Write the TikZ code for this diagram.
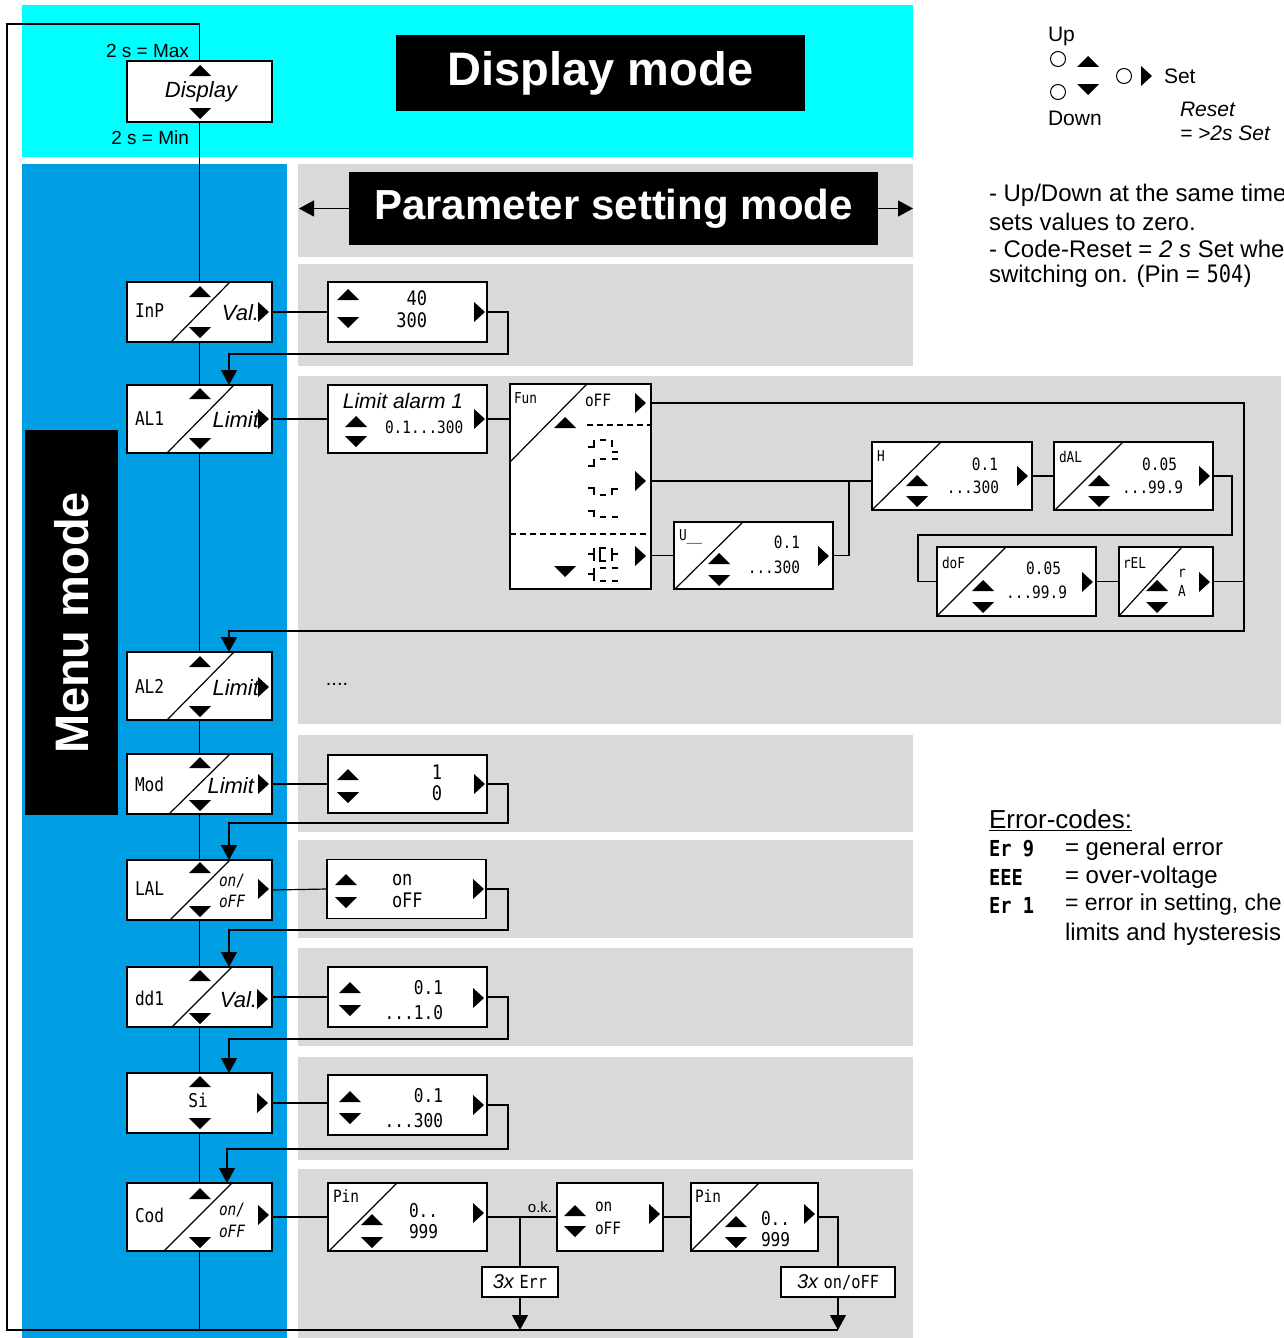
\documentclass[tikz,border=0pt]{standalone}
\usepackage{fontspec}
\setmainfont{Liberation Sans}
\newfontfamily\lcd[FakeStretch=0.85]{DejaVu Sans Mono}
\usetikzlibrary{arrows.meta,calc}
\definecolor{cyanbg}{RGB}{0,255,255}
\definecolor{bluebg}{RGB}{0,158,226}
\definecolor{graybg}{RGB}{217,217,217}
\newcommand\FS[1]{\fontsize{#1}{#1}\selectfont}
\newcommand\UpTri[2]{\fill ({#1-11},{#2+5}) -- ({#1+11},{#2+5}) -- (#1,{#2-6}) -- cycle;}
\newcommand\DnTri[2]{\fill ({#1-11},{#2-5}) -- ({#1+11},{#2-5}) -- (#1,{#2+6}) -- cycle;}
\newcommand\RtTri[2]{\fill ({#1-5},{#2-10}) -- ({#1-5},{#2+10}) -- ({#1+6},#2) -- cycle;}
\begin{document}
\begin{tikzpicture}[x=1pt,y=-1pt,
  every node/.style={inner sep=0pt, outer sep=0pt},
  bx/.style={draw, fill=white, line width=1.2pt, rectangle},
  ln/.style={line width=1.2pt},
  arr/.style={line width=1.2pt, -{Triangle[width=16pt,length=15pt]}},
  ttl/.style={fill=black, text=white, font=\FS{#1}\bfseries},
  lcdf/.style={font=\lcd\FS{#1}},
  lcdi/.style={font=\lcd\itshape\FS{#1}},
  sans/.style={font=\FS{#1}},
  ital/.style={font=\FS{#1}\itshape},
  dsh/.style={line width=1.2pt, dash pattern=on 6pt off 4pt}
]
\useasboundingbox (0,0) rectangle (1284,1338);
\fill[white] (0,0) rectangle (1284,1338);
% backgrounds
\fill[cyanbg] (22,5) rectangle (913,157);
\fill[bluebg] (22,164) rectangle (287,1338);
\fill[graybg] (298,164) rectangle (913,257);
\fill[graybg] (298,264) rectangle (913,366);
\fill[graybg] (298,376) rectangle (1281,724);
\fill[graybg] (298,735) rectangle (913,832);
\fill[graybg] (298,840) rectangle (913,938);
\fill[graybg] (298,948) rectangle (913,1046);
\fill[graybg] (298,1057) rectangle (913,1160);
\fill[graybg] (298,1169) rectangle (913,1338);

% titles
\node[ttl=47, minimum width=409, minimum height=76] (dm) at (600.5,73) {Display mode};
\node[ttl=42, minimum width=529, minimum height=73] (psm) at (613.5,208.5) {Parameter setting mode};
\node[ttl=47, rotate=90, minimum width=385, minimum height=93] (mm) at (71.5,622.5) {Menu mode};
\coordinate (pl) at (299,208.5);
\coordinate (pr) at (913,208.5);
\draw[arr] (psm.west) -- (pl);
\draw[arr] (psm.east) -- (pr);

% loop coordinates
\coordinate (lt) at (199.5,24);
\coordinate (ltl) at (7,24);
\coordinate (lbl) at (7,1330);
\coordinate (botR) at (838,1330);

% display box
\node[bx, minimum width=145, minimum height=61] (disp) at (199.5,91.5) {};
\node[ital=22] (dispt) at (201,92) {Display};
\node[sans=19, anchor=east] (tmax) at (189,51) {2 s = Max};
\node[sans=19, anchor=east] (tmin) at (189,138) {2 s = Min};
\draw[ln] (disp.north) -- (lt) -- (ltl) -- (lbl) -- (botR);

% menu boxes
\node[bx, minimum width=145, minimum height=60] (inp) at (199.5,312) {};
\node[bx, minimum width=145, minimum height=68] (al1) at (199.5,419) {};
\node[bx, minimum width=145, minimum height=68] (al2) at (199.5,686) {};
\node[bx, minimum width=145, minimum height=60] (mod) at (199.5,784) {};
\node[bx, minimum width=145, minimum height=60] (lal) at (199.5,890) {};
\node[bx, minimum width=145, minimum height=60] (dd1) at (199.5,997) {};
\node[bx, minimum width=145, minimum height=60] (si) at (199.5,1103) {};
\node[bx, minimum width=145, minimum height=68] (cod) at (199.5,1217) {};
% main vertical line
\draw[ln] (disp.south) -- (inp.north);
\draw[ln] (inp.south) -- (al1.north);
\draw[ln] (al1.south) -- (al2.north);
\draw[ln] (al2.south) -- (mod.north);
\draw[ln] (mod.south) -- (lal.north);
\draw[ln] (lal.south) -- (dd1.north);
\draw[ln] (dd1.south) -- (si.north);
\draw[ln] (si.south) -- (cod.north);
\draw[ln] (cod.south) -- (cod.south |- lbl);
% diagonals
\draw[ln] (171,342) -- (230,282);
\draw[ln] (167,453) -- (234,385);
\draw[ln] (167,720) -- (234,652);
\draw[ln] (169,814) -- (230,754);
\draw[ln] (170,920) -- (230,860);
\draw[ln] (172,1027) -- (232,967);
\draw[ln] (164,1251) -- (232,1183);
% menu texts
\node[lcdf=19, anchor=west] (inpt) at (135,311) {InP};
\node[ital=22, anchor=east] (inpl) at (259,313) {Val.};
\node[lcdf=19, anchor=west] (al1t) at (135,419) {AL1};
\node[ital=22, anchor=east] (al1l) at (259,420) {Limit};
\node[lcdf=19, anchor=west] (al2t) at (135,686) {AL2};
\node[ital=22, anchor=east] (al2l) at (259,688) {Limit};
\node[lcdf=19, anchor=west] (modt) at (135,784) {Mod};
\node[ital=22, anchor=east] (modl) at (254,786) {Limit};
\node[lcdf=19, anchor=west] (lalt) at (135,889) {LAL};
\node[lcdi=17, anchor=west] (lall1) at (219,881) {on/};
\node[lcdi=17, anchor=west] (lall2) at (219,901) {oFF};
\node[lcdf=19, anchor=west] (dd1t) at (135,998) {dd1};
\node[ital=22, anchor=east] (dd1l) at (257,1000) {Val.};
\node[lcdf=19] (sit) at (198,1100) {Si};
\node[lcdf=19, anchor=west] (codt) at (135,1215) {Cod};
\node[lcdi=17, anchor=west] (codl1) at (219,1210) {on/};
\node[lcdi=17, anchor=west] (codl2) at (219,1231) {oFF};
% menu triangles
\UpTri{200}{71} \DnTri{200}{113}
\UpTri{200}{292} \DnTri{200}{332} \RtTri{263}{312}
\UpTri{200}{394} \DnTri{200}{443} \RtTri{263}{419}
\UpTri{200}{662} \DnTri{200}{711} \RtTri{263}{687}
\UpTri{200}{763} \DnTri{200}{805} \RtTri{263}{784}
\UpTri{200}{868} \DnTri{200}{911} \RtTri{263}{889}
\UpTri{200}{976} \DnTri{200}{1018} \RtTri{262}{999}
\UpTri{200}{1082} \DnTri{200}{1123} \RtTri{262}{1103}
\UpTri{200}{1194} \DnTri{200}{1242} \RtTri{263}{1215}

% parameter boxes
\node[bx, minimum width=159, minimum height=60] (inpv) at (407.5,312) {};
\node[bx, minimum width=159, minimum height=68] (al1v) at (407.5,419) {};
\node[bx, minimum width=159, minimum height=58] (modv) at (407.5,784) {};
\node[bx, minimum width=159, minimum height=59] (lalv) at (406.5,889) {};
\node[bx, minimum width=159, minimum height=60] (dd1v) at (407.5,997) {};
\node[bx, minimum width=159, minimum height=60] (siv) at (407.5,1105) {};
\draw[ln] (inp.east) -- (inpv.west);
\draw[ln] (al1.east) -- (al1v.west);
\draw[ln] (mod.east) -- (modv.west);
\draw[ln] (lal.east) -- (lalv.west);
\draw[ln] (dd1.east) -- (dd1v.west);
\draw[ln] (si.east) -- (si.east -| siv.west);
% returns
\draw[arr] (inpv.east) -| (508,354) -| ($(al1.north west)+(102,0)$);
\draw[arr] (modv.east) -| (508,823) -| ($(lal.north west)+(102,0)$);
\draw[arr] (lalv.east) -| (508,930) -| ($(dd1.north west)+(102,0)$);
\draw[arr] (dd1v.east) -| (508,1039) -| ($(si.north west)+(102,0)$);
\draw[arr] (siv.east) -| (508,1149) -| ($(cod.north west)+(100,0)$);
% param texts
\node[lcdf=20, anchor=east] (inpv1) at (427,298) {40};
\node[lcdf=20, anchor=east] (inpv2) at (427,320) {300};
\node[ital=21] (al1v1) at (403,401) {Limit alarm 1};
\node[lcdf=17, anchor=west] (al1v2) at (385,427) {0.1...300};
\node[lcdf=20, anchor=east] (modv1) at (442,772) {1};
\node[lcdf=20, anchor=east] (modv2) at (442,793) {0};
\node[lcdf=20, anchor=west] (lalv1) at (392,880) {on};
\node[lcdf=20, anchor=west] (lalv2) at (392,900) {oFF};
\node[lcdf=19, anchor=east] (dd1v1) at (443,988) {0.1};
\node[lcdf=19, anchor=east] (dd1v2) at (443,1013) {...1.0};
\node[lcdf=19, anchor=east] (siv1) at (443,1096) {0.1};
\node[lcdf=19, anchor=east] (siv2) at (443,1121) {...300};
\node[sans=20] (dots) at (337,684) {....};
\UpTri{348}{295} \DnTri{348}{322} \RtTri{479}{312}
\UpTri{356}{422} \DnTri{356}{441} \RtTri{479}{419}
\UpTri{348}{775} \DnTri{348}{797} \RtTri{479}{784}
\UpTri{346}{880} \DnTri{346}{902} \RtTri{478}{889}
\UpTri{350}{988} \DnTri{350}{1010} \RtTri{478}{998}
\UpTri{350}{1097} \DnTri{350}{1118} \RtTri{478}{1105}

% Fun box
\node[bx, minimum width=141, minimum height=205] (fun) at (580.5,486.5) {};
\draw[ln] (al1v.east) -- (al1v.east -| fun.west);
\draw[ln] (510,462) -- (587,384);
\draw[dsh] (587,425) -- (651,425);
\draw[dsh] (510,534) -- (651,534);
\node[lcdf=15, anchor=west] (funt) at (514,398) {Fun};
\node[lcdf=17, anchor=west] (funo) at (585,400) {oFF};
\begin{scope}[line width=1.1pt]
\draw (588,447) -- (594,447) -- (594,440); \draw (600,440) -- (606,440); \draw (612,440) -- (612,447); \draw (612,452) -- (618,452);
\draw (588,466) -- (594,466) -- (594,459); \draw (600,459) -- (606,459); \draw (612,459) -- (618,459);
\draw (588,488) -- (594,488) -- (594,495); \draw (600,495) -- (606,495); \draw (612,495) -- (612,489) -- (618,489);
\draw (588,511) -- (594,511) -- (594,517); \draw (600,517) -- (606,517); \draw (612,517) -- (618,517);
\draw (588,554) -- (594,554); \draw (594,548) -- (594,561); \draw (606,548) -- (600,548) -- (600,561) -- (606,561); \draw (612,548) -- (612,561); \draw (612,554) -- (618,554);
\draw (588,574) -- (594,574); \draw (594,568) -- (594,581); \draw (600,568) -- (606,568); \draw (600,581) -- (606,581); \draw (612,568) -- (618,568); \draw (612,581) -- (618,581);
\end{scope}
\RtTri{640}{403} \UpTri{565}{423} \RtTri{640}{481} \RtTri{640}{556} \DnTri{565}{571}

% U box
\node[bx, minimum width=159, minimum height=67] (ub) at (753.5,555.5) {};
\draw[ln] (675,589) -- (743,522);
\node[lcdf=15, anchor=west] (ubt) at (679,537) {U\_\_};
\node[lcdf=17, anchor=east] (ub1) at (800,542) {0.1};
\node[lcdf=17, anchor=east] (ub2) at (800,567) {...300};
\UpTri{719}{559} \DnTri{719}{580} \RtTri{823}{556}

% H box
\node[bx, minimum width=160, minimum height=68] (hb) at (952,476) {};
\draw[ln] (872,510) -- (941,442);
\node[lcdf=15, anchor=west] (hbt) at (877,456) {H};
\node[lcdf=17, anchor=east] (hb1) at (998,464) {0.1};
\node[lcdf=17, anchor=east] (hb2) at (999,487) {...300};
\UpTri{917}{481} \DnTri{917}{501} \RtTri{1022}{476}

% dAL box
\node[bx, minimum width=159, minimum height=68] (dal) at (1133.5,476) {};
\draw[ln] (1055,510) -- (1123,442);
\node[lcdf=15, anchor=west] (dalt) at (1059,457) {dAL};
\node[lcdf=17, anchor=east] (dal1) at (1177,464) {0.05};
\node[lcdf=17, anchor=east] (dal2) at (1183,487) {...99.9};
\UpTri{1099}{481} \DnTri{1099}{501} \RtTri{1204}{476}

% doF box
\node[bx, minimum width=159, minimum height=69] (dof) at (1016.5,581.5) {};
\draw[ln] (937,616) -- (1006,547);
\node[lcdf=15, anchor=west] (doft) at (942,563) {doF};
\node[lcdf=17, anchor=east] (dof1) at (1061,568) {0.05};
\node[lcdf=17, anchor=east] (dof2) at (1067,592) {...99.9};
\UpTri{983}{586} \DnTri{983}{607} \RtTri{1087}{582}

% rEL box
\node[bx, minimum width=94, minimum height=69] (rel) at (1166,581.5) {};
\draw[ln] (1119,616) -- (1182,547);
\node[lcdf=15, anchor=west] (relt) at (1123,563) {rEL};
\node[lcdf=15] (rel1) at (1182,573) {r};
\node[lcdf=15] (rel2) at (1182,591) {A};
\UpTri{1157}{586} \DnTri{1157}{607} \RtTri{1204}{582}

% Fun connectors
\coordinate (fm) at (651,481);
\coordinate (rj) at (1244,581.5);
\draw[ln] (fm) -- (fm -| hb.west);
\draw[ln] (ub.east) -| (849,481);
\draw[ln] (ub.west -| fun.east) -- (ub.west);
\draw[ln] (hb.east) -- (dal.west);
\draw[ln] (dal.east) -- (1232,476) -- (1232,535) -- (918,535) -- (918,581.5) -- (dof.west);
\draw[ln] (dof.east) -- (rel.west);
\draw[ln] (rel.east) -- (rj);
\draw[arr] ($(fun.north east)+(0,19)$) -- (1244,403) -- (1244,631) -| ($(al2.north west)+(102,0)$);

% Cod row
\node[bx, minimum width=159, minimum height=68] (pin1) at (407.5,1217) {};
\draw[ln] (329,1251) -- (397,1183);
\node[lcdf=17, anchor=west] (pin1t) at (333,1196) {Pin};
\node[lcdf=19, anchor=west] (pin11) at (409,1211) {0..};
\node[lcdf=19, anchor=west] (pin12) at (409,1232) {999};
\UpTri{372}{1220} \DnTri{372}{1242} \RtTri{478}{1213}
\node[bx, minimum width=106, minimum height=68] (okb) at (610,1217) {};
\node[lcdf=17, anchor=west] (okb1) at (595,1207) {on};
\node[lcdf=17, anchor=west] (okb2) at (595,1228) {oFF};
\UpTri{575}{1211} \DnTri{575}{1231} \RtTri{654}{1214}
\node[bx, minimum width=127, minimum height=68] (pin2) at (754.5,1217) {};
\draw[ln] (691,1251) -- (759,1183);
\node[lcdf=17, anchor=west] (pin2t) at (695,1196) {Pin};
\node[lcdf=19, anchor=west] (pin21) at (761,1219) {0..};
\node[lcdf=19, anchor=west] (pin22) at (761,1240) {999};
\UpTri{736}{1222} \DnTri{736}{1242} \RtTri{809}{1214}
\node[bx, minimum width=76, minimum height=30] (err) at (520,1282) {{\FS{20}\itshape 3x }{\lcd\FS{18}Err}};
\node[bx, minimum width=114, minimum height=30] (onoff) at (838,1282) {{\FS{20}\itshape 3x }{\lcd\FS{18}on/oFF}};
\draw[ln] (cod.east) -- (pin1.west);
\draw[ln] (pin1.east) -- (okb.west);
\node[sans=15, anchor=south] (okl) at (540,1213) {o.k.};
\coordinate (okbr) at (520,1217);
\draw[ln] (okbr) -- (err.north);
\draw[arr] (err.south) -- (err.south |- lbl);
\draw[ln] (okb.east) -- (pin2.west);
\draw[ln] (pin2.east) -| (onoff.north);
\draw[arr] (onoff.south) -- (botR);

% legend
\node[sans=21, anchor=west] (lup) at (1048,36) {Up};
\node[draw, circle, line width=1pt, minimum size=15] (c1) at (1058,59) {};
\node[draw, circle, line width=1pt, minimum size=15] (c2) at (1058,92) {};
\node[draw, circle, line width=1pt, minimum size=15] (c3) at (1124,76) {};
\UpTri{1088}{62} \DnTri{1088}{89} \RtTri{1146}{76}
\node[sans=21, anchor=west] (lset) at (1164,76) {Set};
\node[sans=21, anchor=west] (ldown) at (1048,118) {Down};
\node[ital=21, anchor=west] (lres) at (1180,109) {Reset};
\node[ital=21, anchor=west] (lres2) at (1180,133) {= >2s Set};

% notes
\node[sans=24, anchor=west] (n1) at (989,195) {- Up/Down at the same time};
\node[sans=24, anchor=west] (n2) at (989,222) {sets values to zero.};
\node[sans=24, anchor=west] (n3) at (989,249) {- Code-Reset = \textit{2 s} Set whe};
\node[sans=24, anchor=west] (n4) at (989,276) {switching on. (Pin = {\lcd 504})};

% error codes
\node[sans=26, anchor=west] (ec) at (989,820) {\underline{Error-codes:}};
\node[font=\lcd\bfseries\FS{22}, anchor=west] (e1) at (989,849) {Er 9};
\node[font=\lcd\bfseries\FS{22}, anchor=west] (e2) at (989,877) {EEE};
\node[font=\lcd\bfseries\FS{22}, anchor=west] (e3) at (989,905) {Er 1};
\node[sans=24, anchor=west] (d1) at (1065,849) {= general error};
\node[sans=24, anchor=west] (d2) at (1065,877) {= over-voltage};
\node[sans=23, anchor=west] (d3) at (1065,905) {= error in setting, che};
\node[sans=24, anchor=west] (d4) at (1065,934) {limits and hysteresis};
\end{tikzpicture}
\end{document}
